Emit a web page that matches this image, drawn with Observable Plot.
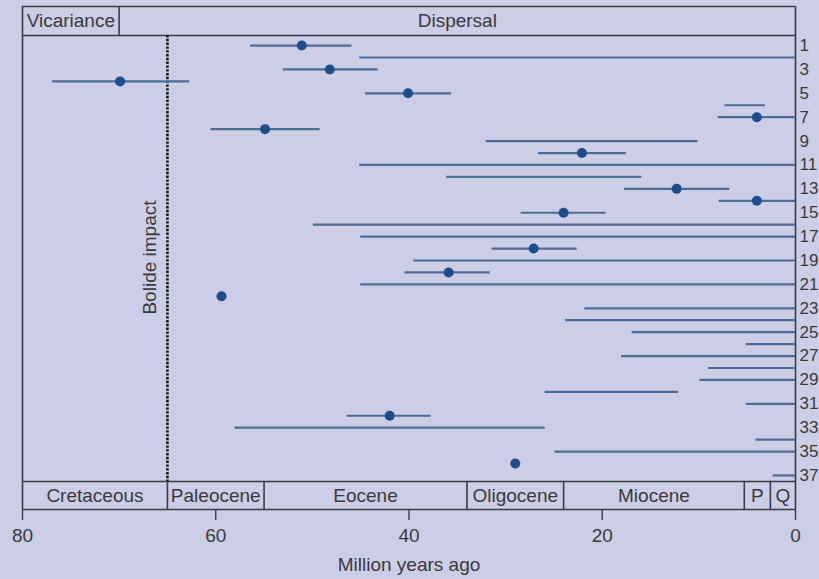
<!DOCTYPE html>
<html>
<head>
<meta charset="utf-8">
<script src="https://cdn.jsdelivr.net/npm/d3@7"></script>
<script src="https://cdn.jsdelivr.net/npm/@observablehq/plot@0.6"></script>
<style>
  html, body { margin: 0; padding: 0; background: #cbcee6; overflow: hidden; }
  #chart svg { display: block; }
</style>
</head>
<body>
<div id="chart"></div>
<script>
// ---- data ----
const rowIds = [1,2,3,4,5,6,7,8,9,10,11,12,13,14,15,16,17,18,19,20,21,22,23,24,25,26,27,28,29,30,31,32,33,34,35,36,37];
const rangeStart = [56.4,45.1,53.0,76.9,44.5,7.3,8.0,60.5,32.0,26.6,45.1,36.1,17.7,7.9,28.4,49.9,45.0,31.4,39.5,40.4,45.0,null,21.8,23.8,16.9,5.1,18.0,9.0,9.9,25.9,5.1,46.4,58.0,4.1,24.9,null,2.3];
const rangeEnd   = [45.9,0,43.2,62.7,35.6,3.1,0,49.2,10.1,17.5,0,15.9,6.8,0,19.6,0,0,22.6,0,31.6,0,null,0,0,0,0,0,0,0,12.1,0,37.7,25.9,0,0,null,0];
const estimate   = [51.1,null,48.2,69.9,40.1,null,4.0,54.9,null,22.1,null,null,12.3,4.0,24.0,null,null,27.1,null,35.9,null,59.4,null,null,null,null,null,null,null,null,null,42.0,null,null,null,29.0,null];

const epochNames = ["Cretaceous","Paleocene","Eocene","Oligocene","Miocene","P","Q"];
const epochStart = [80,65,55,34,24,5.3,2.6];
const epochEnd   = [65,55,34,24,5.3,2.6,0];

const modeNames = ["Vicariance","Dispersal"];
const modeStart = [80,70];
const modeEnd   = [70,0];

const bolideImpact = 65;
const xTicks = [80,60,40,20,0];
const rowLabels = rowIds.filter(d => d % 2 === 1);

// ---- layout constants (row units on the y scale) ----
const yTop = -2.27, modeBottom = 0.16, epochTop = 37.5, yBottom = 39.85;

// ---- tables ----
const ranges = rowIds.map((r,i) => ({row: r, lo: rangeStart[i], hi: rangeEnd[i]})).filter(d => d.lo != null);
const points = rowIds.map((r,i) => ({row: r, pt: estimate[i]})).filter(d => d.pt != null);
const epochs = epochNames.map((n,i) => ({name: n, x1: epochStart[i], x2: epochEnd[i], mid: (epochStart[i]+epochEnd[i])/2}));
const modes = modeNames.map((n,i) => ({name: n, x1: modeStart[i], x2: modeEnd[i], mid: (modeStart[i]+modeEnd[i])/2}));

const frameColor = "#3b3b48";
const textColor = "#3a3a3a";
const lineColor = "#4f6c97";
const dotColor = "#1d4d8a";
const font = "'Liberation Sans', Arial, sans-serif";

const chart = Plot.plot({
  width: 819,
  height: 579,
  marginLeft: 22,
  marginRight: 24,
  marginTop: 6,
  marginBottom: 70,
  style: {background: "#cbcee6", fontFamily: font, fontSize: "19px", color: textColor, overflow: "hidden"},
  x: {domain: [80, 0]},
  y: {domain: [yTop, yBottom], range: [6, 509], axis: null},
  marks: [
    // frame
    Plot.ruleY([yTop, modeBottom, epochTop, yBottom], {stroke: frameColor, strokeWidth: 1.6}),
    Plot.ruleX([80, 0], {y1: yTop, y2: yBottom, stroke: frameColor, strokeWidth: 1.6}),
    Plot.ruleX(modes.slice(1), {x: "x1", y1: yTop, y2: modeBottom, stroke: frameColor, strokeWidth: 1.6}),
    Plot.ruleX(epochs.slice(1), {x: "x1", y1: epochTop, y2: yBottom, stroke: frameColor, strokeWidth: 1.6}),
    // bolide impact
    Plot.ruleX([bolideImpact], {y1: modeBottom, y2: epochTop, stroke: "#151515", strokeWidth: 2.6, strokeDasharray: "2.4,1.4"}),
    Plot.text(["Bolide impact"], {x: bolideImpact, y: 18.75, dx: -18, rotate: -90, fontSize: 19, fill: textColor}),
    // band labels
    Plot.text(modes, {x: "mid", y: (yTop + modeBottom) / 2, text: "name", fontSize: 19, fill: textColor}),
    Plot.text(epochs, {x: "mid", y: (epochTop + yBottom) / 2, text: "name", fontSize: 19, fill: textColor}),
    // ranges and estimates
    Plot.ruleY(ranges, {y: "row", x1: "lo", x2: "hi", stroke: lineColor, strokeWidth: 2.2}),
    Plot.dot(points, {x: "pt", y: "row", r: 5, fill: dotColor, stroke: "none"}),
    // row labels
    Plot.text(rowLabels, {x: 0, y: d => d, text: d => String(d), dx: 4, textAnchor: "start", fontSize: 17, fill: textColor}),
    // x axis
    Plot.axisX({ticks: xTicks, tickSize: 11, tickPadding: 8, fontSize: 19, label: null, stroke: frameColor, strokeWidth: 1.4, fill: textColor}),
    Plot.text(["Million years ago"], {frameAnchor: "bottom", dy: 61, fontSize: 19, fill: textColor})
  ]
});
document.getElementById("chart").appendChild(chart);
</script>
</body>
</html>
